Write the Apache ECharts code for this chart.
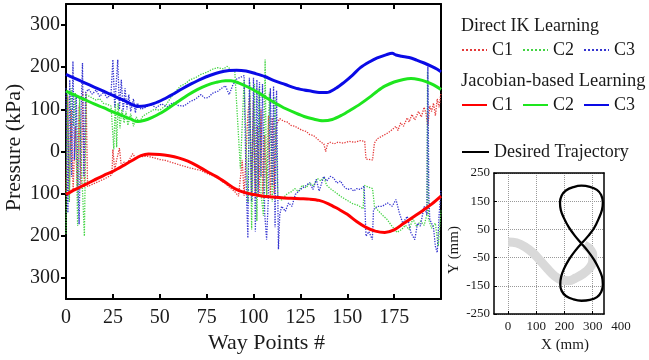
<!DOCTYPE html>
<html><head><meta charset="utf-8">
<script src="https://cdn.jsdelivr.net/npm/echarts@6/dist/echarts.min.js"></script>
<style>html,body{margin:0;padding:0;background:#fff}#c{width:649px;height:360px}</style>
</head><body><div id="c"></div><script>
// ---- Main chart data (Way point #, pressure kPa; lower half drawn as negative) ----
const xTicks = [0, 25, 50, 75, 100, 125, 150, 175];
const yTicks = [-300, -200, -100, 0, 100, 200, 300];

const ikC1 = [[0,-100],[0.9,131],[1.8,-95],[2.8,100],[3.8,-92],[5,60],[6,-90],[7,110],[8,-88],[8.9,143],[9.8,-85],[10.7,140],[11.5,-83],[14,-78],[17,-72],[20,-66],[23,-59],[24.5,-55],[25,5],[26,-45],[27,-20],[28.5,8],[29.5,-35],[31,-25],[32.5,-30],[34,-18],[35.6,-5],[37,-15],[39,-10],[41,-12],[43,-11],[45,-13],[47,-15],[50,-19],[53,-21],[55,-24],[58,-28],[60,-31],[63,-35],[66,-39],[69,-42],[72,-45],[75,-52],[78,-57],[81,-62],[83,-70],[86,-80],[88,-88],[90,-95],[92,-106],[93,-105],[94,-20],[95,-105],[97,90],[98,131],[99,-100],[100,120],[101,-105],[102,60],[103,-100],[104,100],[105,-108],[106,40],[107,-105],[108,84],[109,-108],[110,80],[111,-100],[112,60],[113,70],[114,78],[116,72],[118,70],[120,62],[122,60],[124,55],[126,50],[128,48],[130,40],[132,38],[134,30],[136,22],[137.5,18],[138.5,0],[139.5,18],[141,22],[143,18],[145,22],[148,20],[151,24],[154,22],[157,26],[159.3,24],[160,-18],[163.5,-20],[164.5,20],[166,30],[168,35],[170,40],[172,45],[174,52],[176,60],[177,50],[178.5,68],[180,60],[182,80],[183,70],[184.5,88],[186,75],[188,95],[189.5,82],[191,105],[192,90],[193,60],[194,108],[195,95],[196,115],[197,85],[198,125],[199,105],[200,140]];

const ikC2 = [[0,-195],[0.8,140],[1.8,-120],[2.8,150],[4,60],[5,140],[6.2,-177],[7.2,130],[8.5,-60],[9.8,-201],[10.8,135],[12,132],[14,127],[16,122],[18,125],[20,114],[22,112],[24,108],[25,110],[25.5,5],[26.3,120],[27,10],[27.8,115],[28.8,55],[29.8,100],[31,68],[32,95],[33,62],[34.5,90],[36,60],[37.5,82],[39,68],[41,84],[44,92],[47,100],[50,98],[53,108],[55,122],[58,140],[61,155],[64,162],[66,170],[69,175],[72,183],[75,188],[78,195],[81,199],[84,196],[86,202],[88,194],[90,192],[91,190],[93,-40],[95,170],[97,-120],[98,165],[99,-185],[100.5,160],[101.8,-165],[103,150],[104,-100],[105.3,-153],[106.2,218],[107,-110],[108.5,140],[110,-120],[111.5,130],[113,-110],[115,-115],[116,-118],[118,-100],[120,-96],[122,-88],[124,-95],[126,-80],[128,-86],[130,-75],[132,-82],[134,-64],[136,-70],[137.5,-60],[139,-80],[141,-88],[144,-98],[147,-108],[150,-116],[153,-124],[156,-128],[158.5,-136],[159,-80],[161,-84],[163.5,-88],[164.5,-130],[166,-138],[169,-152],[171,-160],[174,-178],[176.5,-192],[179,-185],[181,-175],[183,-185],[185,-160],[187,-178],[189,-165],[191,-175],[192.5,-150],[192.8,190],[193.3,-160],[195,-182],[197,-170],[198.5,-225],[200,-140]];

const ikC3 = [[0,150],[1,-145],[2,170],[3,-60],[3.7,214],[4.5,-20],[5.5,130],[6.5,-100],[7,-173],[8,90],[8.8,210],[9.5,-60],[10.5,140],[12,148],[14,136],[16,146],[18,130],[20,141],[22,127],[24,136],[25,218],[26,105],[27.6,218],[28.5,100],[29.5,170],[30.5,95],[31.5,150],[32.5,100],[33.5,135],[34.5,95],[36,125],[37,92],[38,115],[40,100],[42,104],[45,112],[48,104],[51,113],[54,106],[57,116],[60,109],[63,108],[66,118],[69,124],[72,135],[74,127],[76,128],[78,138],[81,143],[83,150],[85,156],[87,135],[89,158],[91,172],[93,176],[95,180],[96,-60],[97,-205],[97.8,175],[99,-120],[100,175],[101,-190],[101.8,170],[102.5,-100],[103.2,165],[104,-60],[104.8,160],[106,-150],[107,-209],[108,-100],[109,150],[110,-80],[110.7,155],[111.5,-180],[112.3,145],[113.3,-232],[114,-150],[115,-130],[117,-142],[118.7,-122],[120.5,-130],[122.3,-102],[125,-90],[127.6,-82],[130,-74],[131.7,-90],[133.5,-66],[135,-94],[137.5,-59],[139,-70],[141,-59],[142.8,-63],[144.5,-75],[146.4,-70],[148,-82],[150,-90],[152,-88],[153.5,-94],[155,-88],[157,-90],[159,-82],[160,-201],[161.5,-190],[163.4,-209],[164,-138],[166,-130],[168.7,-130],[171.4,-122],[174,-130],[176,-114],[177.8,-146],[179.6,-170],[182,-154],[184,-193],[186,-209],[187.5,-170],[189,-177],[191,-130],[192.5,-150],[193,202],[193.5,-100],[194,-161],[196,-180],[197,-225],[198,-240],[199,-150],[200,-90]];

const jbC1 = [[0,-102],[5,-90],[10,-79],[15,-68],[20,-57],[25,-47],[30,-35],[35,-22],[40,-10],[44,-6],[50,-7],[55,-10],[60,-15],[65,-23],[70,-34],[75,-47],[80,-59],[85,-73],[90,-88],[95,-97],[100,-102],[105,-106],[110,-108],[115,-110],[120,-111],[125,-112],[130,-113],[135,-116],[140,-124],[145,-136],[150,-149],[155,-166],[160,-180],[165,-189],[170,-192],[175,-186],[180,-171],[185,-156],[190,-141],[195,-125],[200,-106]];

const jbC2 = [[0,143],[5,133],[10,123],[15,113],[20,104],[25,94],[30,85],[35,76],[38,71],[42,74],[46,81],[50,90],[55,104],[60,119],[65,134],[70,147],[75,157],[80,164],[85,168],[88,168],[92,163],[97,153],[102,141],[107,127],[112,114],[117,102],[122,92],[127,83],[132,77],[137,73],[142,76],[147,86],[152,99],[157,113],[162,129],[166,143],[170,155],[175,165],[180,171],[184,173],[188,171],[192,166],[196,158],[200,147]];

const jbC3 = [[0,183],[5,173],[10,163],[15,153],[20,143],[25,133],[30,123],[35,112],[38,107],[42,108],[47,114],[52,124],[57,136],[62,149],[67,161],[72,172],[77,181],[82,188],[87,192],[91,193],[96,191],[101,185],[106,178],[111,168],[117,159],[122,151],[127,146],[131,143],[135,140],[139,140],[144,150],[148,163],[153,182],[157,199],[162,213],[166,222],[171,230],[174,233],[176,229],[179,226],[183,223],[187,217],[191,210],[195,202],[198,195],[200,189]];

// ---- Inset data (X mm, Y mm) ----
const insetXTicks = [0, 100, 200, 300];
const insetXExtraLabel = 400;
const desiredTraj = [[260,0],[285,28],[305,55],[322,90],[333,120],[336,145],[330,172],[315,190],[290,201],[260,205],[232,200],[205,188],[190,170],[184,145],[187,118],[198,90],[215,58],[237,27],[260,0],[283,-27],[305,-58],[322,-90],[333,-118],[336,-145],[330,-172],[315,-190],[290,-200],[260,-203],[232,-198],[205,-186],[190,-168],[185,-145],[188,-118],[198,-90],[215,-58],[237,-27],[260,0]];
const actualTraj = [[0,5],[30,2],[60,-12],[90,-35],[115,-62],[140,-90],[165,-115],[190,-130],[215,-132],[240,-122],[265,-108],[288,-88],[300,-62],[300,-40],[290,-20],[270,-5]];

const serif = 'Liberation Serif';
const txt = '#1a1a1a';
const chart = echarts.init(document.getElementById('c'), null, {renderer:'canvas'});

const lineAxis = {show:true, onZero:false, lineStyle:{color:'#000', width:2}};
const thinAxis = {show:true, onZero:false, lineStyle:{color:'#000', width:1.5}};
const legendCommon = {itemWidth:25, itemHeight:14, itemGap:9, padding:0, selectedMode:false,
  itemStyle:{opacity:0}, textStyle:{fontFamily:serif, fontSize:18, color:txt}};

chart.setOption({
  animation:false,
  backgroundColor:'#fff',
  title:[
    {text:'Direct IK Learning', left:461, top:17, textStyle:{fontFamily:serif, fontSize:18, fontWeight:'normal', color:txt}, padding:0},
    {text:'Jacobian-based Learning', left:461, top:72, textStyle:{fontFamily:serif, fontSize:18.5, fontWeight:'normal', color:txt}, padding:0}
  ],
  legend:[
    Object.assign({data:['IK C1','IK C2','IK C3'], left:461, top:41, formatter:n=>n.split(' ')[1]}, legendCommon),
    Object.assign({data:['JB C1','JB C2','JB C3'], left:461, top:96, formatter:n=>n.split(' ')[1]}, legendCommon),
    Object.assign({}, legendCommon, {data:['Desired Trajectory'], left:461, top:143, itemWidth:27})
  ],
  grid:[
    {left:66, top:4, width:375, height:295, outerBoundsMode:'none', containLabel:false},
    {left:494, top:173, width:110, height:141, outerBoundsMode:'none', containLabel:false}
  ],
  xAxis:[
    {gridIndex:0, type:'value', min:0, max:200, position:'bottom',
     axisLine:lineAxis,
     axisTick:{show:true, inside:true, length:5, lineStyle:{width:2,color:'#000'}, customValues:xTicks},
     axisLabel:{customValues:xTicks, fontFamily:serif, fontSize:20, color:txt, margin:9},
     splitLine:{show:false},
     name:'Way Points #', nameLocation:'middle', nameGap:33, nameMoveOverlap:false,
     nameTextStyle:{fontFamily:serif, fontSize:22, color:txt, padding:[0,0,0,26]}},
    {gridIndex:0, type:'value', min:0, max:200, position:'top',
     axisLine:lineAxis,
     axisTick:{show:true, inside:true, length:5, lineStyle:{width:2,color:'#000'}, customValues:xTicks},
     axisLabel:{show:false}, splitLine:{show:false}},
    {gridIndex:1, type:'value', min:-50, max:340, position:'bottom',
     axisLine:thinAxis,
     axisTick:{show:true, inside:true, length:3, lineStyle:{width:1,color:'#000'}, customValues:insetXTicks},
     axisLabel:{customValues:insetXTicks, fontFamily:serif, fontSize:13, color:txt, margin:6},
     splitLine:{show:true, lineStyle:{type:'dotted', color:'#999', width:1}},
     name:'X (mm)', nameLocation:'middle', nameGap:24, nameMoveOverlap:false,
     nameTextStyle:{fontFamily:serif, fontSize:15, color:txt, padding:[0,0,0,32]}},
    {gridIndex:1, type:'value', min:-50, max:340, position:'top',
     axisLine:thinAxis, axisTick:{show:false}, axisLabel:{show:false}, splitLine:{show:false}}
  ],
  yAxis:[
    {gridIndex:0, type:'value', min:-350, max:350, position:'left',
     axisLine:lineAxis,
     axisTick:{show:true, inside:false, length:5, lineStyle:{width:2,color:'#000'}, customValues:yTicks},
     axisLabel:{customValues:yTicks, formatter:v=>String(Math.abs(v)), fontFamily:serif, fontSize:20, color:txt, margin:6},
     splitLine:{show:false},
     name:'Pressure (kPa)', nameLocation:'middle', nameGap:41, nameMoveOverlap:false,
     nameTextStyle:{fontFamily:serif, fontSize:22, color:txt, padding:[0,0,0,8]}},
    {gridIndex:0, type:'value', min:-350, max:350, position:'right',
     axisLine:lineAxis, axisTick:{show:false}, axisLabel:{show:false}, splitLine:{show:false}},
    {gridIndex:1, type:'value', min:-250, max:250, interval:100, position:'left',
     axisLine:thinAxis,
     axisTick:{show:true, inside:true, length:3, lineStyle:{width:1,color:'#000'}},
     axisLabel:{fontFamily:serif, fontSize:13, color:txt, margin:4},
     splitLine:{show:true, lineStyle:{type:'dotted', color:'#999', width:1}},
     name:'Y (mm)', nameLocation:'middle', nameGap:32, nameMoveOverlap:false,
     nameTextStyle:{fontFamily:serif, fontSize:15, color:txt, padding:[0,13,0,0]}},
    {gridIndex:1, type:'value', min:-250, max:250, position:'right',
     axisLine:thinAxis, axisTick:{show:false}, axisLabel:{show:false}, splitLine:{show:false}}
  ],
  series:[
    {name:'IK C1', type:'line', data:ikC1, symbol:'none', color:'#e43a3a', lineStyle:{type:'dotted', width:1.3, color:'#e43a3a'}, z:2},
    {name:'IK C2', type:'line', data:ikC2, symbol:'none', color:'#44d444', lineStyle:{type:'dotted', width:1.3, color:'#44d444'}, z:2},
    {name:'IK C3', type:'line', data:ikC3, symbol:'none', color:'#3535d0', lineStyle:{type:'dotted', width:1.3, color:'#3535d0'}, z:2},
    {name:'JB C1', type:'line', data:jbC1, symbol:'none', smooth:0.3, color:'#ff0000', lineStyle:{width:3, color:'#ff0000'}, z:4},
    {name:'JB C2', type:'line', data:jbC2, symbol:'none', smooth:0.3, color:'#1ee61e', lineStyle:{width:3, color:'#1ee61e'}, z:4},
    {name:'JB C3', type:'line', data:jbC3, symbol:'none', smooth:0.3, color:'#0a0ae6', lineStyle:{width:3, color:'#0a0ae6'}, z:4},
    {name:'Actual', type:'line', xAxisIndex:2, yAxisIndex:2, data:actualTraj, symbol:'none', smooth:0.4, color:'#d6d6d6', lineStyle:{width:9, color:'#d9d9d9'}, z:2},
    {name:'Desired Trajectory', type:'line', xAxisIndex:2, yAxisIndex:2, data:desiredTraj, symbol:'none', smooth:0.4, color:'#000', lineStyle:{width:2.3, color:'#000'}, z:4}
  ]
});

// Extra inset tick label (400) lies beyond the plotted x range; position it with the axis scale.
const p400 = chart.convertToPixel({xAxisIndex:2}, insetXExtraLabel);
const pBottom = chart.convertToPixel({yAxisIndex:2}, -250);
chart.setOption({graphic:[{type:'text', x:p400, y:pBottom + 6, style:{text:String(insetXExtraLabel), fontFamily:serif, fontSize:13, fill:txt, align:'center', verticalAlign:'top'}}]});
</script></body></html>
